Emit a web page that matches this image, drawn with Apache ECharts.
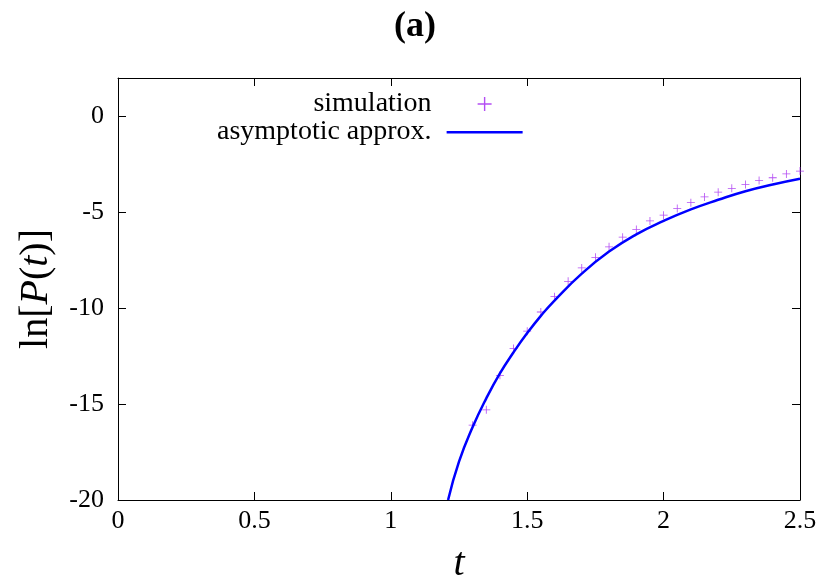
<!DOCTYPE html>
<html>
<head>
<meta charset="utf-8">
<script src="https://cdn.jsdelivr.net/npm/echarts@6/dist/echarts.min.js"></script>
<style>html,body{margin:0;padding:0;background:#fff}#chart{width:830px;height:581px}</style>
</head>
<body>
<div id="chart"></div>
<script>
var simT = [1.3, 1.35, 1.4, 1.45, 1.5, 1.55, 1.6, 1.65, 1.7, 1.75, 1.8, 1.85, 1.9, 1.95, 2.0, 2.05, 2.1, 2.15, 2.2, 2.25, 2.3, 2.35, 2.4, 2.45, 2.5];
var simY = [-16.1, -15.3, -13.5, -12.1, -11.2, -10.2, -9.4, -8.6, -7.9, -7.35, -6.8, -6.3, -5.9, -5.45, -5.15, -4.8, -4.5, -4.2, -3.95, -3.75, -3.55, -3.35, -3.2, -3.0, -2.85];
var fitT = [1.21, 1.25, 1.3, 1.35, 1.4, 1.45, 1.5, 1.55, 1.6, 1.7, 1.8, 1.9, 2.0, 2.1, 2.2, 2.3, 2.4, 2.5];
var fitY = [-20, -18.0, -16.2, -14.7, -13.4, -12.3, -11.3, -10.4, -9.6, -8.2, -7.05, -6.15, -5.45, -4.85, -4.35, -3.9, -3.55, -3.25];
var yTicks = [-20, -15, -10, -5, 0];

var plusPath = 'path://M4.5,0L5.5,0L5.5,4.5L10,4.5L10,5.5L5.5,5.5L5.5,10L4.5,10L4.5,5.5L0,5.5L0,4.5L4.5,4.5Z';
var linePath = 'path://M0,6L76,6L76,8.5L0,8.5Z M0,0L0.01,0L0,0.01Z M76,14L75.99,14L76,13.99Z';
var font = 'Liberation Serif';

var chart = echarts.init(document.getElementById('chart'));
var tickStyle = {show: true, inside: true, length: 8, lineStyle: {color: '#000'}};
var option = {
    backgroundColor: '#fff',
    animation: false,
    textStyle: {fontFamily: font},
    title: {
        text: '(a)', left: 'center', top: 4,
        textStyle: {fontFamily: font, fontSize: 36, fontWeight: 'bold', color: '#000'}
    },
    grid: {left: 118, right: 30, top: 78, bottom: 81, containLabel: false, outerBoundsMode: 'none'},
    legend: {
        orient: 'vertical', left: 212, top: 85, align: 'right', itemGap: 0, itemWidth: 76, itemHeight: 14,
        textStyle: {fontFamily: font, fontSize: 28, color: '#000', padding: [0, 10, 0, 0]},
        data: [
            {name: 'simulation', icon: plusPath, itemStyle: {color: '#a020f0'}},
            {name: 'asymptotic approx.', icon: linePath, itemStyle: {color: '#0000ff'}}
        ]
    },
    xAxis: [{
        type: 'value', min: 0, max: 2.5, interval: 0.5,
        name: 't', nameLocation: 'middle', nameGap: 44,
        nameTextStyle: {fontFamily: font, fontSize: 40, fontStyle: 'italic', color: '#000'},
        axisLine: {onZero: false, lineStyle: {color: '#000'}},
        axisTick: tickStyle, splitLine: {show: false},
        axisLabel: {fontFamily: font, fontSize: 26, color: '#000', margin: 8}
    }, {
        type: 'value', min: 0, max: 2.5, interval: 0.5, position: 'top',
        axisLine: {onZero: false, lineStyle: {color: '#000'}}, axisTick: tickStyle,
        axisLabel: {show: false}, splitLine: {show: false}
    }],
    yAxis: [{
        type: 'value', min: -20, max: 2, interval: 5,
        name: '{n|ln[}{i|P}{n|(}{i|t}{n|)]}', nameLocation: 'middle', nameGap: 62, nameRotate: 90,
        nameTextStyle: {rich: {
            n: {fontFamily: font, fontSize: 40, color: '#000'},
            i: {fontFamily: font, fontSize: 40, color: '#000', fontStyle: 'italic'}
        }},
        axisLine: {onZero: false, lineStyle: {color: '#000'}},
        axisTick: {show: true, inside: true, length: 8, lineStyle: {color: '#000'}, customValues: yTicks},
        splitLine: {show: false},
        axisLabel: {fontFamily: font, fontSize: 26, color: '#000', margin: 14, customValues: yTicks}
    }, {
        type: 'value', min: -20, max: 2, interval: 5, position: 'right',
        axisLine: {onZero: false, lineStyle: {color: '#000'}},
        axisTick: {show: true, inside: true, length: 8, lineStyle: {color: '#000'}, customValues: yTicks},
        axisLabel: {show: false}, splitLine: {show: false}
    }],
    series: [{
        name: 'simulation', type: 'scatter', symbol: plusPath, symbolSize: 8,
        itemStyle: {color: '#a020f0'},
        data: simT.map(function (t, i) { return [t, simY[i]]; })
    }, {
        name: 'asymptotic approx.', type: 'line', smooth: true, symbol: 'none',
        lineStyle: {color: '#0000ff', width: 2.5}, itemStyle: {color: '#0000ff'},
        data: fitT.map(function (t, i) { return [t, fitY[i]]; })
    }]
};
chart.setOption(option);
</script>
</body>
</html>
